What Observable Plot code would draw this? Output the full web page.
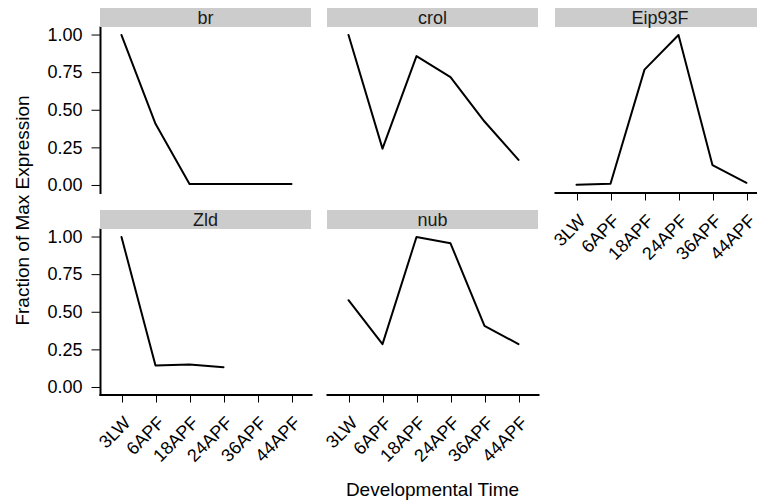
<!DOCTYPE html>
<html>
<head>
<meta charset="utf-8">
<script src="https://cdn.jsdelivr.net/npm/d3@7"></script>
<script src="https://cdn.jsdelivr.net/npm/@observablehq/plot@0.6"></script>
<style>
  html, body { margin: 0; padding: 0; background: #ffffff; }
  #fig { position: relative; width: 757px; height: 503px; overflow: hidden; background: #fff;
         font-family: "Liberation Sans", Arial, Helvetica, sans-serif; color: #000; }
  .panel { position: absolute; }
  .strip { position: absolute; background: #cccccc; text-align: center; color: #1a1a1a;
           font-size: 18px; line-height: 19px; height: 19px; white-space: nowrap; }
  .strip span { position: relative; top: 1.3px; }
  .xtitle { position: absolute; font-size: 19px; line-height: 21.2px; white-space: nowrap; color: #000; text-align: center; }
  #info { position: absolute; left: 560px; top: 285px; width: 195px; font: 9px monospace; white-space: pre-wrap; word-break: break-all; color: #ffffff; }
</style>
</head>
<body>
<div id="fig"></div>
<script>
// ---- data ----
const times = ["3LW", "6APF", "18APF", "24APF", "36APF", "44APF"];
const genes = ["br", "crol", "Eip93F", "Zld", "nub"];
const brValues     = [1.00, 0.41, 0.01, 0.01, 0.01, 0.01];
const crolValues   = [1.00, 0.245, 0.86, 0.72, 0.425, 0.17];
const eip93fValues = [0.005, 0.012, 0.77, 1.00, 0.135, 0.018];
const zldValues    = [1.00, 0.146, 0.152, 0.135, null, null];
const nubValues    = [0.58, 0.288, 1.00, 0.958, 0.41, 0.288];
const yTicks = [0, 0.25, 0.5, 0.75, 1];
const xTitle = "Developmental Time";
const yTitle = "Fraction of Max Expression";

const series = [brValues, crolValues, eip93fValues, zldValues, nubValues];

// ---- layout ----
const colLeft = [100, 327, 554.5];
const rowTop = [27, 228.5];
const W = 211, H = 165.5, stripH = 19;
const fontFamily = '"Liberation Sans", Arial, Helvetica, sans-serif';

const fig = document.getElementById("fig");

function place(node, left, top) {
  const wrap = document.createElement("div");
  wrap.className = "panel";
  wrap.style.left = left + "px";
  wrap.style.top = top + "px";
  wrap.appendChild(node);
  fig.appendChild(wrap);
}

const charts = [];
genes.forEach((gene, gi) => {
  const col = gi % 3, row = Math.floor(gi / 3);
  const showY = col === 0;
  const showX = row === 1 || (gi + 3 >= genes.length);
  const ml = showY ? 100 : 0;
  const mb = showX ? 100 : 0;
  const values = series[gi];
  const data = times.map((t, i) => ({time: t, value: values[i]}));

  const marks = [];
  if (showY) {
    marks.push(Plot.axisY(yTicks, {tickFormat: d3.format(".2f"), tickSize: 8.5, tickPadding: 9.5, label: null}));
    marks.push(Plot.frame({anchor: "left", strokeWidth: 2}));
  }
  if (showX) {
    marks.push(Plot.axisX({tickSize: 8, tickPadding: 12, tickRotate: -45, textAnchor: "end", lineAnchor: "top", dx: 1, label: null}));
    marks.push(Plot.frame({anchor: "bottom", strokeWidth: 2}));
  }
  marks.push(Plot.line(data, {x: "time", y: "value", strokeWidth: 2, defined: d => d.value != null}));

  const chart = Plot.plot({
    width: ml + W,
    height: H + mb,
    marginLeft: ml,
    marginRight: 0,
    marginTop: 0,
    marginBottom: mb,
    style: {fontFamily, fontSize: "18px", background: "transparent", overflow: "visible", maxWidth: "none", color: "#000"},
    x: {type: "point", domain: times, padding: 0.6, axis: null},
    y: {domain: [-0.05, 1.05], axis: null},
    marks
  });
  charts.push(chart);
  place(chart, colLeft[col] - ml, rowTop[row]);

  const strip = document.createElement("div");
  strip.className = "strip";
  strip.style.left = colLeft[col] + "px";
  strip.style.top = (rowTop[row] - stripH) + "px";
  strip.style.width = W + "px";
  const span = document.createElement("span");
  span.textContent = gene;
  strip.appendChild(span);
  fig.appendChild(strip);
});

// y-axis title: rotated text drawn by Plot in a narrow strip on the left
const yTitlePlot = Plot.plot({
  width: 40, height: 420, margin: 0,
  style: {fontFamily, fontSize: "19px", background: "transparent", overflow: "visible", maxWidth: "none", color: "#000"},
  x: {axis: null}, y: {axis: null},
  marks: [Plot.text([yTitle], {frameAnchor: "middle", rotate: -90, fill: "#000"})]
});
place(yTitlePlot, 2, 0);

// x-axis title
const xt = document.createElement("div");
xt.className = "xtitle";
xt.textContent = xTitle;
xt.style.left = "282.5px";
xt.style.width = "300px";
xt.style.top = (496 - 17.2) + "px";
fig.appendChild(xt);

// force a style/layout pass (white-on-white status note, not part of the chart)
const info = document.createElement("div");
info.id = "info";
fig.appendChild(info);
let s = "";
charts.forEach(c => {
  c.querySelectorAll("g[aria-label]").forEach(g => {
    const cs = getComputedStyle(g);
    const r = g.getBoundingClientRect();
    s += g.getAttribute("aria-label") + "|" + cs.stroke + "|" + Math.round(r.width) + "\n";
  });
});
const el = document.elementFromPoint(96, 387);
s += "efp=" + (el ? el.tagName : "none");
info.textContent = s;
</script>
</body>
</html>
